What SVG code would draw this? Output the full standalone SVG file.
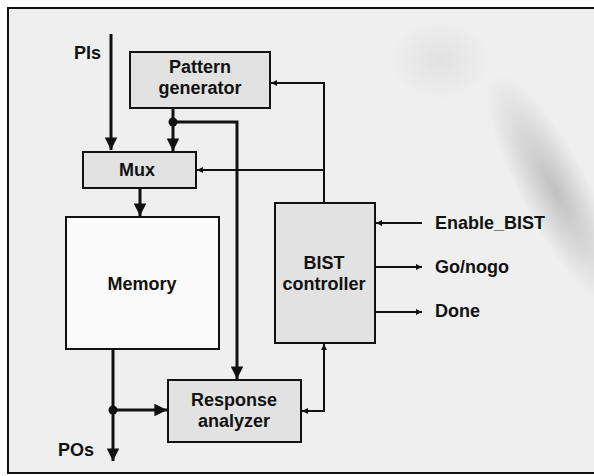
<svg xmlns="http://www.w3.org/2000/svg" width="594" height="476" viewBox="0 0 594 476">
<defs>
<style>
.box{stroke:#111;stroke-width:2;fill:#e2e2e2}
.wht{fill:#fafafa}
.ln{stroke:#111;stroke-width:3;fill:none}
.thin{stroke:#111;stroke-width:2;fill:none}
text{font-family:"Liberation Sans",Arial,sans-serif;font-weight:700;font-size:18px;fill:#111;text-anchor:middle;dominant-baseline:central}
.lbl{text-anchor:start}
</style>
<marker id="ah" viewBox="0 0 10 10" refX="10" refY="5" markerWidth="5.6" markerHeight="4.2" orient="auto" markerUnits="strokeWidth"><path d="M0,0 L10,5 L0,10 z" fill="#111"/></marker>
<marker id="as" viewBox="0 0 10 10" refX="10" refY="5" markerWidth="4" markerHeight="3" orient="auto" markerUnits="strokeWidth"><path d="M0,0 L10,5 L0,10 z" fill="#111"/></marker>
<radialGradient id="smudge" cx="0.5" cy="0.5" r="0.5"><stop offset="0" stop-color="#888" stop-opacity="0.45"/><stop offset="1" stop-color="#888" stop-opacity="0"/></radialGradient>
</defs>
<rect x="0" y="0" width="594" height="476" fill="#ffffff"/>
<rect x="8" y="8" width="590" height="465" fill="#efefef" stroke="#111" stroke-width="2"/>
<ellipse cx="555" cy="190" rx="35" ry="130" fill="url(#smudge)" transform="rotate(-28 555 190)"/>
<ellipse cx="440" cy="60" rx="50" ry="40" fill="url(#smudge)" opacity="0.3"/>
<g id="connectors">
<line class="ln" x1="111" y1="34" x2="111" y2="150" marker-end="url(#ah)"/>
<line class="ln" x1="173" y1="108" x2="173" y2="151" marker-end="url(#ah)"/>
<polyline class="ln" points="173,122 237,122 237,379" marker-end="url(#ah)"/>
<circle cx="173" cy="122" r="4.5" fill="#111"/>
<line class="ln" x1="140" y1="188" x2="140" y2="216" marker-end="url(#ah)"/>
<line class="ln" x1="113" y1="349" x2="113" y2="461" marker-end="url(#ah)"/>
<line class="ln" x1="113" y1="410" x2="167" y2="410" marker-end="url(#ah)"/>
<circle cx="113" cy="410" r="4.5" fill="#111"/>
<polyline class="thin" points="324,202 324,83 271,83" marker-end="url(#as)"/>
<polyline class="thin" points="324,170 197,170" marker-end="url(#as)"/>
<polyline class="thin" points="324,358 324,411 302,411" marker-end="url(#as)"/>
<line class="thin" x1="324" y1="360" x2="324" y2="344" marker-end="url(#as)"/>
<line class="thin" x1="422" y1="223" x2="376" y2="223" marker-end="url(#as)"/>
<line class="thin" x1="375" y1="267" x2="422" y2="267" marker-end="url(#as)"/>
<line class="thin" x1="375" y1="312" x2="422" y2="312" marker-end="url(#as)"/>
</g>
<g id="pattern-generator">
<rect class="box" x="130" y="52" width="140" height="56"/>
<text x="200" y="67">Pattern</text>
<text x="200" y="88">generator</text>
</g>
<g id="mux">
<rect class="box" x="83" y="152" width="113" height="36"/>
<text x="137" y="170">Mux</text>
</g>
<g id="memory">
<rect class="box wht" x="66" y="217" width="153" height="132"/>
<text x="142" y="284">Memory</text>
</g>
<g id="bist-controller">
<rect class="box" x="275" y="203" width="100" height="140"/>
<text x="324" y="263">BIST</text>
<text x="324" y="284">controller</text>
</g>
<g id="response-analyzer">
<rect class="box" x="168" y="380" width="133" height="62"/>
<text x="234" y="400">Response</text>
<text x="234" y="421">analyzer</text>
</g>
<g id="labels">
<text class="lbl" x="74" y="53">PIs</text>
<text class="lbl" x="58" y="450">POs</text>
<text class="lbl" x="435" y="223">Enable_BIST</text>
<text class="lbl" x="435" y="267">Go/nogo</text>
<text class="lbl" x="435" y="311">Done</text>
</g>
</svg>
